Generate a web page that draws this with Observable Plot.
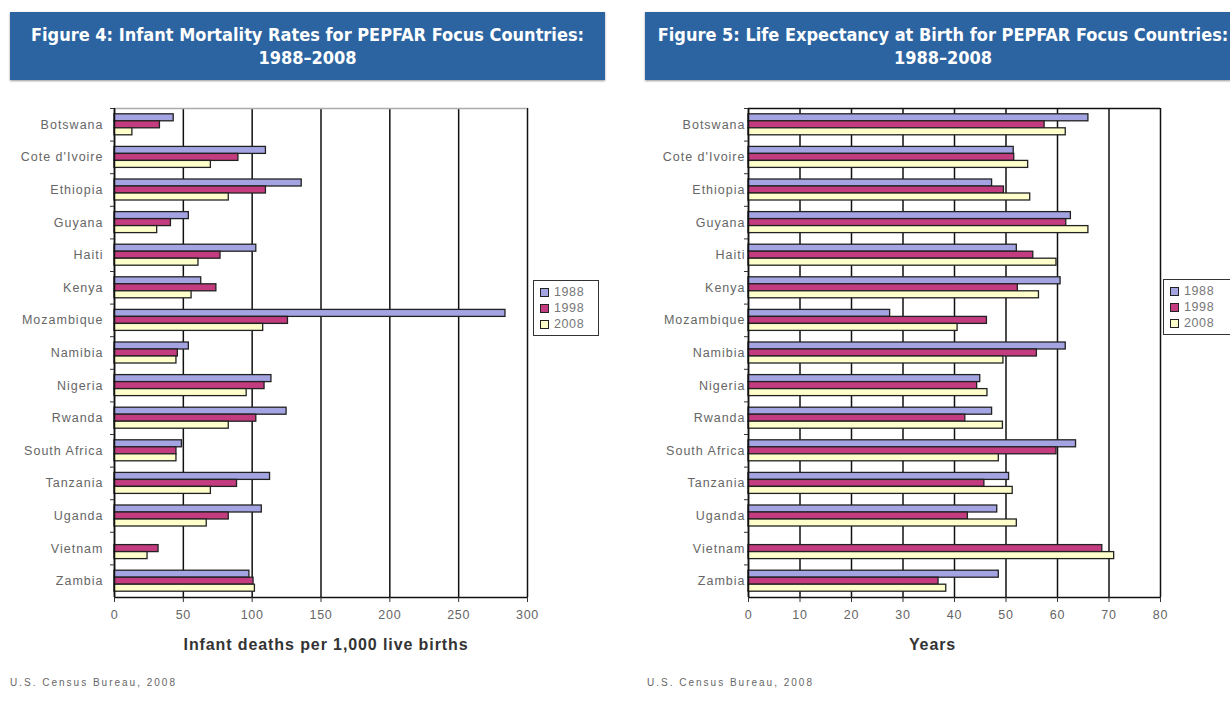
<!DOCTYPE html>
<html>
<head>
<meta charset="utf-8">
<script src="https://cdn.jsdelivr.net/npm/d3@7"></script>
<script src="https://cdn.jsdelivr.net/npm/@observablehq/plot@0.6"></script>
<style>
  html, body { margin: 0; padding: 0; background: #fff; width: 1230px; height: 719px; overflow: hidden; }
  .narrow { font-family: "Liberation Sans Narrow", "DejaVu Sans Condensed", sans-serif; font-stretch: condensed; }
  .title { position: absolute; top: 12px; height: 68px; background: #2c64a2; color: #fff;
           font-weight: bold; font-size: 18px; line-height: 23px; text-align: center;
           display: flex; flex-direction: column; justify-content: center; box-shadow: 0 1px 2px #999; }
  .chart { position: absolute; top: 100px; line-height: 0; }
  .legend { position: absolute; border: 1.5px solid #333; background: #fff; font-family: "Liberation Sans", Arial, sans-serif;
            font-size: 12.5px; letter-spacing: 0.6px; color: #777; padding: 3px 0 3px 6px; }
  .legend div { display: flex; align-items: center; height: 16px; }
  .legend span.sw { display: inline-block; width: 7px; height: 7px; border: 1.5px solid #222; margin-right: 5px; }
  .foot { position: absolute; top: 677px; font-family: "Liberation Sans", Arial, sans-serif; font-size: 10px;
          letter-spacing: 2px; color: #666; }
</style>
</head>
<body>
<div class="title narrow" style="left:10px;width:595px;">
  <div>Figure 4: Infant Mortality Rates for PEPFAR Focus Countries:</div><div>1988–2008</div>
</div>
<div class="title narrow" style="left:645px;width:596px;">
  <div>Figure 5: Life Expectancy at Birth for PEPFAR Focus Countries:</div><div>1988–2008</div>
</div>
<div id="left" class="chart" style="left:0px;"></div>
<div id="right" class="chart" style="left:640px;"></div>
<div id="legL" class="legend" style="left:533px;top:280px;width:58px;"></div>
<div id="legR" class="legend" style="left:1163px;top:279px;width:70px;"></div>
<div class="foot" style="left:10px;">U.S. Census Bureau, 2008</div>
<div class="foot" style="left:647px;">U.S. Census Bureau, 2008</div>
<script>
const countries = ["Botswana","Cote d'Ivoire","Ethiopia","Guyana","Haiti","Kenya","Mozambique","Namibia","Nigeria","Rwanda","South Africa","Tanzania","Uganda","Vietnam","Zambia"];
const years = ["1988","1998","2008"];
const yearColors = ["#a4a4e2","#c33c7f","#ffffcc"];

const infant1988 = [43,110,136,54,103,63,284,54,114,125,49,113,107,null,98];
const infant1998 = [33,90,110,41,77,74,126,46,109,103,45,89,83,32,101];
const infant2008 = [13,70,83,31,61,56,108,45,96,83,45,70,67,24,102];
const infantTicks = [0,50,100,150,200,250,300];

const life1988 = [66,51.5,47.3,62.6,52.1,60.6,27.5,61.6,45,47.3,63.6,50.6,48.3,null,48.6];
const life1998 = [57.5,51.6,49.6,61.7,55.3,52.3,46.3,56,44.4,42.1,59.8,45.8,42.6,68.7,36.9];
const life2008 = [61.6,54.3,54.7,66,59.8,56.4,40.6,49.5,46.4,49.4,48.6,51.3,52.1,71,38.4];
const lifeTicks = [0,10,20,30,40,50,60,70,80];

function toRows(series) {
  const rows = [];
  series.forEach((vals, yi) => vals.forEach((v, ci) => {
    if (v != null) rows.push({country: countries[ci], year: years[yi], value: v});
  }));
  return rows;
}

function chart({series, ticks, label, marginLeft, marginRight, tickPadding, labelDx, topStroke}) {
  const width = 540, height = 560, marginTop = 8, marginBottom = 63;
  const band = (height - marginTop - marginBottom) / countries.length;
  const barH = 7;
  const inset = (band - barH) / 2;
  const rows = toRows(series);
  const font = '"Liberation Sans", Arial, sans-serif';
  const bars = years.map((yr, i) => Plot.barX(rows.filter(d => d.year === yr), {
    x: "value", y: "country", fill: yearColors[i], stroke: "#222", strokeWidth: 1.3,
    insetTop: inset, insetBottom: inset, dy: (i - 1) * barH
  }));
  const svg = Plot.plot({
    width, height, marginTop, marginBottom, marginLeft, marginRight,
    x: {domain: [ticks[0], ticks[ticks.length - 1]]},
    y: {domain: countries, padding: 0, round: false},
    style: {fontFamily: font, fontSize: "12.5px", color: "#555", background: "transparent"},
    marks: [
      Plot.ruleX(ticks, {stroke: "#111", strokeWidth: 1.5}),
      Plot.ruleY([countries[0]], {dy: -band / 2, stroke: topStroke, strokeWidth: 1.5}),
      ...bars,
      Plot.ruleY([countries[countries.length - 1]], {dy: band / 2, stroke: "#111", strokeWidth: 1.5}),
      Plot.ruleX([ticks[0]], {stroke: "#111", strokeWidth: 1.5}),
      Plot.axisX({ticks, tickSize: 5, tickPadding: 8, label: null, stroke: "#333", fill: "#666", className: "xax"}),
      Plot.axisY({tickSize: 0, tickPadding, label: null, fill: "#666", className: "yax"}),
      Plot.axisY({tickSize: 4, tickFormat: () => "", label: null, stroke: "#333", dy: -band / 2}),
      Plot.text([label], {frameAnchor: "bottom", dy: 52, dx: labelDx, fontWeight: "bold", fontSize: 16, fill: "#333", className: "xlab"})
    ]
  });
  svg.querySelectorAll("text").forEach(t => t.style.letterSpacing = "0.7px");
  svg.querySelectorAll(".yax text").forEach(t => t.style.letterSpacing = "1px");
  svg.querySelectorAll(".xlab text").forEach(t => t.style.letterSpacing = "0.9px");
  return svg;
}

document.getElementById("left").append(chart({
  series: [infant1988, infant1998, infant2008], ticks: infantTicks,
  label: "Infant deaths per 1,000 live births", marginLeft: 114, marginRight: 13,
  tickPadding: 11, labelDx: 5, topStroke: "#aaa"
}));
document.getElementById("right").append(chart({
  series: [life1988, life1998, life2008], ticks: lifeTicks,
  label: "Years", marginLeft: 108, marginRight: 20,
  tickPadding: 3, labelDx: -22, topStroke: "#111"
}));

function legend(id) {
  const el = document.getElementById(id);
  years.forEach((yr, i) => {
    const row = document.createElement("div");
    const sw = document.createElement("span");
    sw.className = "sw"; sw.style.background = yearColors[i];
    row.append(sw, document.createTextNode(yr));
    el.append(row);
  });
}
legend("legL"); legend("legR");
</script>
</body>
</html>
